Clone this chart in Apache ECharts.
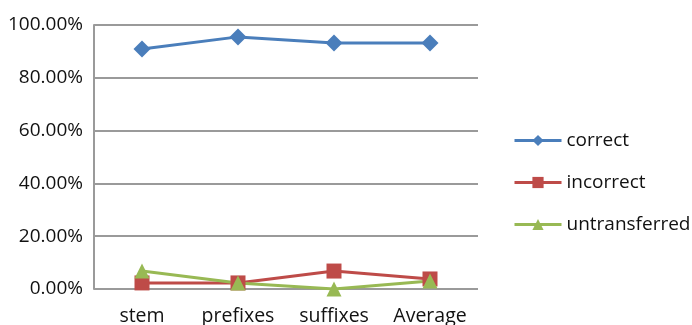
<!DOCTYPE html>
<html>
<head>
<meta charset="utf-8">
<script src="https://cdn.jsdelivr.net/npm/echarts@6/dist/echarts.min.js"></script>
<style>
html,body{margin:0;padding:0;background:#fff;}
#chart{width:692px;height:325px;}
</style>
</head>
<body>
<div id="chart"></div>
<script>
// Categories along the x axis
const categories = ['stem', 'prefixes', 'suffixes', 'Average'];

// Shares per category, in percent
const correct = [90.9, 95.5, 93.2, 93.2];
const incorrect = [2.3, 2.3, 6.8, 3.8];
const untransferred = [6.8, 2.3, 0.0, 3.0];

// Y axis ticks (percent)
const yTicks = [0, 20, 40, 60, 80, 100];

const FONT = '"Open Sans", "Noto Sans", sans-serif';
const TEXT = '#111';

function makeSeries(name, data, color, symbol, size) {
  return {
    name: name,
    type: 'line',
    data: data,
    symbol: symbol,
    symbolSize: size,
    lineStyle: { color: color, width: 3 },
    itemStyle: { color: color },
    emphasis: { disabled: true }
  };
}

const chart = echarts.init(document.getElementById('chart'));
chart.setOption({
  animation: false,
  backgroundColor: '#fff',
  grid: { left: 94, right: 214, top: 25, bottom: 36, outerBoundsMode: 'none' },
  xAxis: {
    type: 'category',
    data: categories,
    boundaryGap: true,
    axisLine: { show: false },
    axisTick: { show: false },
    axisLabel: { color: TEXT, fontFamily: FONT, fontSize: 19.5, margin: 17 }
  },
  yAxis: {
    type: 'value',
    min: yTicks[0],
    max: yTicks[yTicks.length - 1],
    interval: 20,
    axisLine: { show: true, lineStyle: { color: '#9a9a9a', width: 2 } },
    axisTick: { show: false },
    splitLine: { show: true, lineStyle: { color: '#9a9a9a', width: 2 } },
    axisLabel: {
      color: TEXT, fontFamily: FONT, fontSize: 19, margin: 11,
      formatter: v => v.toFixed(2) + '%'
    }
  },
  legend: {
    orient: 'vertical',
    left: 513,
    top: 131,
    padding: 0,
    itemWidth: 47,
    itemHeight: 14,
    itemGap: 23,
    lineStyle: { width: 3 },
    textStyle: { color: TEXT, fontFamily: FONT, fontSize: 19 },
    data: ['correct', 'incorrect', 'untransferred']
  },
  series: [
    makeSeries('correct', correct, '#4a7ebb', 'diamond', 17),
    makeSeries('incorrect', incorrect, '#be4b48', 'rect', 15),
    makeSeries('untransferred', untransferred, '#98b954', 'triangle', 15)
  ]
});
</script>
</body>
</html>
